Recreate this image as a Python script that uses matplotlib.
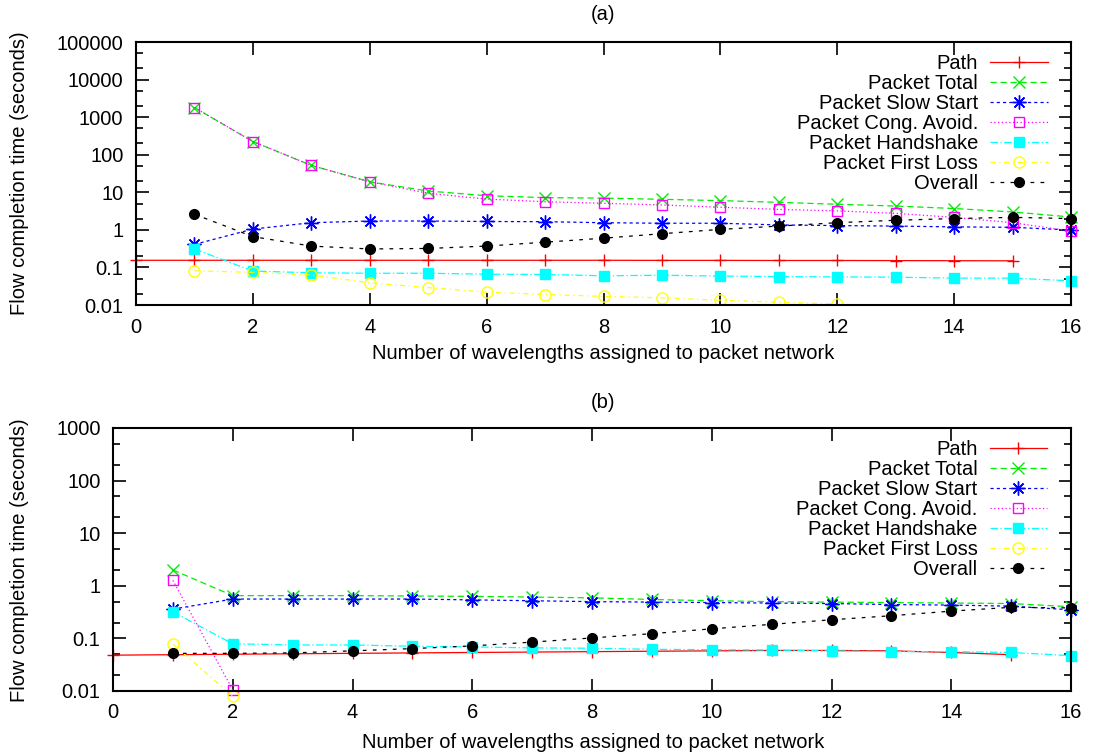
import matplotlib
matplotlib.use("Agg")
import matplotlib.pyplot as plt
from matplotlib.ticker import LogLocator, FixedLocator, NullFormatter

plt.rcParams['font.family'] = ['Liberation Sans', 'DejaVu Sans']

# ---- data, panel (a)
x_path = list(range(0, 16))
x_all = list(range(1, 17))

path_a = [0.155, 0.155, 0.155, 0.155, 0.155, 0.155, 0.155, 0.155, 0.155, 0.154, 0.154, 0.153, 0.153, 0.152, 0.151, 0.150]
total_a = [1800, 224, 52, 19, 10.8, 8.1, 7.2, 7.0, 6.5, 6.0, 5.4, 4.8, 4.3, 3.7, 3.0, 2.2]
slow_a = [0.41, 1.05, 1.55, 1.72, 1.72, 1.67, 1.65, 1.55, 1.5, 1.5, 1.35, 1.3, 1.26, 1.2, 1.17, 0.99]
cong_a = [1800, 224, 52, 19, 9.4, 6.6, 5.6, 5.1, 4.6, 4.0, 3.5, 3.2, 2.75, 2.15, 1.55, 0.93]
hand_a = [0.31, 0.08, 0.072, 0.07, 0.07, 0.066, 0.065, 0.06, 0.062, 0.059, 0.057, 0.056, 0.055, 0.052, 0.052, 0.044]
x_loss_a = list(range(1, 13))
loss_a = [0.081, 0.074, 0.063, 0.039, 0.029, 0.022, 0.019, 0.017, 0.0155, 0.0134, 0.0119, 0.0105]
overall_a = [2.6, 0.66, 0.37, 0.31, 0.32, 0.37, 0.47, 0.6, 0.79, 1.03, 1.26, 1.55, 1.8, 2.0, 2.15, 2.0]

# ---- data, panel (b)
path_b = [0.048, 0.049, 0.05, 0.051, 0.052, 0.053, 0.054, 0.055, 0.056, 0.057, 0.058, 0.059, 0.059, 0.058, 0.054, 0.049]
total_b = [2.0, 0.65, 0.65, 0.65, 0.64, 0.63, 0.61, 0.59, 0.55, 0.52, 0.5, 0.49, 0.48, 0.47, 0.46, 0.40]
slow_b = [0.36, 0.56, 0.56, 0.56, 0.56, 0.54, 0.52, 0.5, 0.49, 0.48, 0.47, 0.46, 0.44, 0.43, 0.41, 0.35]
x_short_b = [1, 2]
cong_b = [1.27, 0.0105]
hand_b = [0.32, 0.079, 0.075, 0.075, 0.071, 0.069, 0.066, 0.065, 0.062, 0.061, 0.06, 0.058, 0.056, 0.056, 0.054, 0.047]
loss_b = [0.078, 0.008]
overall_b = [0.052, 0.052, 0.053, 0.058, 0.064, 0.072, 0.085, 0.102, 0.123, 0.152, 0.185, 0.226, 0.27, 0.33, 0.39, 0.38]

xticks = [0, 2, 4, 6, 8, 10, 12, 14, 16]
labels = ['Path', 'Packet Total', 'Packet Slow Start', 'Packet Cong. Avoid.',
          'Packet Handshake', 'Packet First Loss', 'Overall']

W, H = 1098, 755
FS = 14.5
fig = plt.figure(figsize=(W / 100, H / 100), dpi=100)


def px_axes(l, t, r, b):
    return fig.add_axes([l / W, 1 - b / H, (r - l) / W, (b - t) / H])


def draw(ax, path, total, slow, xc, cong, hand, xl, loss, overall, clip_loss):
    lw = 0.9
    ms = 7
    ax.plot(x_path, path, color='#ff0000', lw=lw, marker='+', ms=9, mew=1, label=labels[0], clip_on=False)
    ax.plot(x_all, total, color='#00ee00', lw=lw, dashes=(5, 3), marker='x', ms=8, mew=1, label=labels[1], clip_on=False)
    ax.plot(x_all, slow, color='#0000ff', lw=lw, dashes=(2.5, 2.5), marker=(8, 2, 0), ms=10, mew=1, label=labels[2], clip_on=False)
    ax.plot(xc, cong, color='#ff00ff', lw=lw, dashes=(1, 2), marker='s', ms=ms, mfc='none', mew=1, label=labels[3], clip_on=False)
    ax.plot(x_all, hand, color='#00ffff', lw=lw, dashes=(6, 2, 1, 2), marker='s', ms=ms, label=labels[4], clip_on=False)
    ax.plot(xl, loss, color='#ffff00', lw=lw, dashes=(4, 3, 1, 3), marker='o', ms=ms + 1, mfc='none', mew=1, label=labels[5], clip_on=not clip_loss)
    ax.plot(x_all, overall, color='#000000', lw=lw, dashes=(3, 5), marker='o', ms=ms, label=labels[6], clip_on=False)

    ax.set_yscale('log')
    ax.set_xlim(0, 16)
    ax.xaxis.set_major_locator(FixedLocator(xticks))
    ax.yaxis.set_major_locator(LogLocator(base=10, numticks=20))
    ax.yaxis.set_minor_locator(LogLocator(base=10, subs=[2, 5], numticks=20))
    ax.yaxis.set_minor_formatter(NullFormatter())
    ax.yaxis.set_major_formatter(matplotlib.ticker.FuncFormatter(lambda v, p: ('%g' % v)))
    ax.tick_params(which='major', direction='in', length=9, width=1.2, top=True, right=True, labelsize=FS, pad=9)
    ax.tick_params(which='minor', direction='in', length=5, width=1.2, top=True, right=True)
    for s in ax.spines.values():
        s.set_linewidth(1.5)

    leg = ax.legend(loc='upper right', bbox_to_anchor=(0.975, 0.955), markerfirst=False, frameon=False,
                    fontsize=FS, handlelength=2.85, handletextpad=0.6, labelspacing=0.05,
                    borderpad=0, borderaxespad=0)
    return leg


ax1 = px_axes(136, 42, 1071, 305)
draw(ax1, path_a, total_a, slow_a, x_all, cong_a, hand_a, x_loss_a, loss_a, overall_a, False)
ax1.set_ylim(0.01, 100000)

ax2 = px_axes(113, 428, 1071, 691)
draw(ax2, path_b, total_b, slow_b, x_short_b, cong_b, hand_b, x_short_b, loss_b, overall_b, True)
ax2.set_ylim(0.01, 1000)

xlab = 'Number of wavelengths assigned to packet network'
ylab = 'Flow completion time (seconds)'
fig.text(603 / W, 1 - 15 / H, '(a)', ha='center', va='center', fontsize=FS)
fig.text(603 / W, 1 - 403 / H, '(b)', ha='center', va='center', fontsize=FS)
fig.text(603 / W, 1 - 353 / H, xlab, ha='center', va='center', fontsize=FS)
fig.text(593 / W, 1 - 742 / H, xlab, ha='center', va='center', fontsize=FS)
fig.text(20 / W, 1 - 173 / H, ylab, ha='center', va='center', rotation=90, fontsize=FS)
fig.text(20 / W, 1 - 560 / H, ylab, ha='center', va='center', rotation=90, fontsize=FS)

fig.savefig('out.png', dpi=100)
